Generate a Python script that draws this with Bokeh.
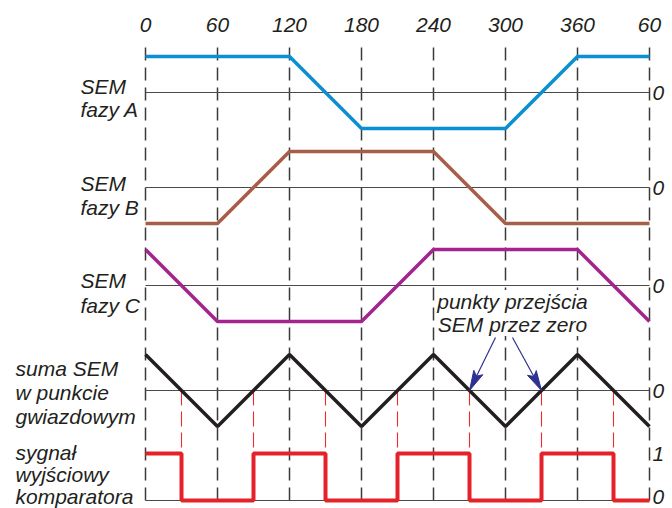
import math
from bokeh.plotting import figure
from bokeh.models import Range1d
from bokeh.core.properties import value
from bokeh.embed import file_html
from bokeh.resources import INLINE

# ---- data ----
angles = [0, 60, 120, 180, 240, 300, 360, 420]
tick_labels = ["0", "60", "120", "180", "240", "300", "360", "60"]
emf_a = [1, 1, 1, -1, -1, -1, 1, 1]
emf_b = [-1, -1, 1, 1, 1, -1, -1, -1]
emf_c = [1, -1, -1, -1, 1, 1, 1, -1]
emf_sum = [1, -1, 1, -1, 1, -1, 1, -1]
zero_cross = [30, 90, 150, 210, 270, 330, 390]
comp_x = [0, 30, 90, 150, 210, 270, 330, 390, 420]
comp_y = [1, 0, 1, 0, 1, 0, 1, 0, 0]
arrow_targets = [270, 330]

labels_a = ["SEM", "fazy A"]
labels_b = ["SEM", "fazy B"]
labels_c = ["SEM", "fazy C"]
labels_sum = ["suma SEM", "w punkcie", "gwiazdowym"]
labels_comp = ["sygnał", "wyjściowy", "komparatora"]
note_lines = ["punkty przejścia", "SEM przez zero"]

# ---- geometry (pixel based layout) ----
W, H = 672, 508
PX_PER_DEG = 1.2
X0 = 145  # px of 0 deg


def py(page_y):
    """picture y pixel -> data y (pixels from plot bottom)"""
    return H - page_y


def px_deg(page_x):
    return (page_x - X0) / PX_PER_DEG


AMP = 36
ZA, ZB, ZC, ZS = py(92), py(187), py(285), py(390)
ZK = py(500)
KAMP = 47

FONT = value("Liberation Sans")
FS = "21px"

p = figure(width=W, height=H, output_backend="svg", toolbar_location=None,
           x_range=Range1d(-X0 / PX_PER_DEG, (W - X0) / PX_PER_DEG),
           y_range=Range1d(0, H), min_border=0)
p.axis.visible = False
p.grid.visible = False
p.outline_line_color = None
p.background_fill_color = "white"
p.border_fill_color = "white"

# vertical dashed grid lines
p.segment(x0=angles, y0=[ZK] * len(angles), x1=angles, y1=[py(43)] * len(angles),
          line_color="#3a3a3a", line_width=1.5, line_dash="13 7")

# red dashed zero-cross lines
p.segment(x0=zero_cross, y0=[ZS] * len(zero_cross), x1=zero_cross,
          y1=[ZK + KAMP] * len(zero_cross),
          line_color="#ee2a31", line_width=1.1, line_dash="15 6")

# zero lines
for z in [ZA, ZB, ZC, ZS, ZK]:
    p.line([angles[0], angles[-1]], [z, z], line_color="#4a4a4a", line_width=1.2)

# annotation text with white box
p.text(x=[px_deg(512)] * 2, y=[py(301), py(324)], text=note_lines,
       text_font=FONT, text_font_style="italic", text_font_size=FS,
       text_align="center", text_baseline="middle", text_color="#231f20",
       background_fill_color="white", padding=0)

# signals
p.line(angles, [ZA + AMP * v for v in emf_a], line_color="#0a8fd3", line_width=3.5)
p.line(angles, [ZB + AMP * v for v in emf_b], line_color="#a65e48", line_width=3.5)
p.line(angles, [ZC + AMP * v for v in emf_c], line_color="#a3238f", line_width=3.5)
p.line(angles, [ZS + AMP * v for v in emf_sum], line_color="#231f20", line_width=3.5)
p.step(comp_x, [ZK + KAMP * v for v in comp_y], mode="after",
       line_color="#e5222a", line_width=4)

# arrows from note to zero crossings
starts = [(px_deg(495), py(337)), (px_deg(512), py(337))]
heads_x, heads_y = [], []
for (sx, sy), tx in zip(starts, arrow_targets):
    ty = ZS
    p.line([sx, tx], [sy, ty], line_color="#2e3192", line_width=1.2)
    dx = (tx - sx) * PX_PER_DEG
    dy = ty - sy
    L = math.hypot(dx, dy)
    ux, uy = dx / L, dy / L
    hl, hw = 20, 5
    bx, by = -ux * hl, -uy * hl
    nx, ny = -uy * hw, ux * hw
    heads_x.append([tx, tx + (bx + nx) / PX_PER_DEG, tx + (bx * 0.8) / PX_PER_DEG,
                    tx + (bx - nx) / PX_PER_DEG])
    heads_y.append([ty, ty + by + ny, ty + by * 0.8, ty + by - ny])
p.patches(heads_x, heads_y, fill_color="#2e3192", line_color="#2e3192", line_width=1)

# top tick labels
p.text(x=angles, y=[py(24)] * len(angles), text=tick_labels,
       text_font=FONT, text_font_style="italic", text_font_size=FS,
       text_align="center", text_baseline="middle", text_color="#231f20")

# right labels
right_y = [ZA, ZB, ZC, ZS, ZK + KAMP, ZK + 4]
right_t = ["0", "0", "0", "0", "1", "0"]
p.text(x=[angles[-1]] * len(right_y), y=right_y, text=right_t, x_offset=3,
       text_font=FONT, text_font_style="italic", text_font_size=FS,
       text_align="left", text_baseline="middle", text_color="#231f20")


def left_labels(lines, page_x, baselines):
    p.text(x=[px_deg(page_x)] * len(lines), y=[py(b) for b in baselines], text=lines,
           text_font=FONT, text_font_style="italic", text_font_size=FS,
           text_align="left", text_baseline="alphabetic", text_color="#231f20")


left_labels(labels_a, 80, [86, 109])
left_labels(labels_b, 80, [183, 207])
left_labels(labels_c, 80, [280, 305])
left_labels(labels_sum, 15, [368, 392, 416])
left_labels(labels_comp, 15, [452, 474, 496])

open("out.html", "w").write(file_html(p, INLINE))
